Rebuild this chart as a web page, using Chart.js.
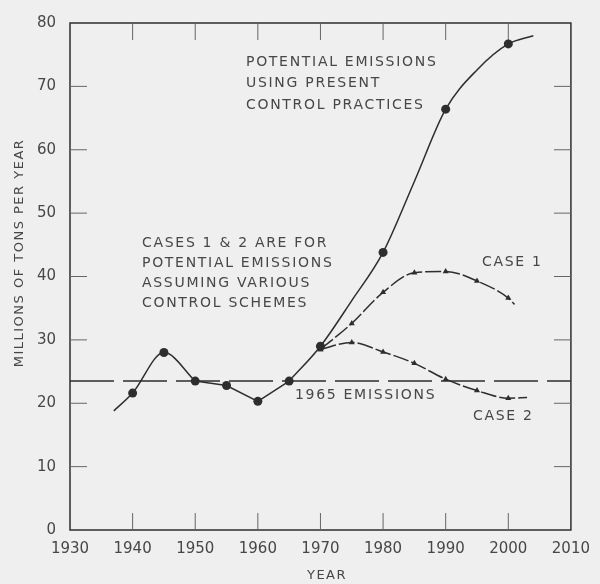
<!DOCTYPE html>
<html>
<head>
<meta charset="utf-8">
<script src="https://cdn.jsdelivr.net/npm/chart.js@4.4.1/dist/chart.umd.min.js"></script>
<style>
  html, body { margin: 0; padding: 0; background: #efefef; }
  canvas { display: block; }
</style>
</head>
<body>
<canvas id="c" width="600" height="584"></canvas>
<script>
// Emissions outlook, millions of tons per year
const mainYears  = [1937, 1940, 1945, 1950, 1955, 1960, 1965, 1970, 1975, 1980, 1985, 1990, 1995, 2000, 2004];
const mainValues = [18.8, 21.6, 28.0, 23.5, 22.8, 20.3, 23.5, 29.0, 36.2, 43.8, 55.0, 66.4, 72.6, 76.7, 78.0];
const mainMarked = [false, true, true, true, true, true, true, true, false, true, false, true, false, true, false];

const case1Years  = [1970, 1975, 1980, 1985, 1990, 1995, 2000, 2001];
const case1Values = [28.5, 32.6, 37.5, 40.6, 40.8, 39.3, 36.6, 35.6];
const case2Years  = [1970, 1975, 1980, 1985, 1990, 1995, 2000, 2003];
const case2Values = [28.5, 29.6, 28.1, 26.3, 23.8, 22.0, 20.8, 20.9];
const caseMarked  = [true, true, true, true, true, true, true, false];

const baseYears  = [1930, 2010];
const baseValues = [23.5, 23.5];

const xTicks = [1930, 1940, 1950, 1960, 1970, 1980, 1990, 2000, 2010];
const yTicks = [0, 10, 20, 30, 40, 50, 60, 70, 80];

const ink = '#2e2e2e';
const textInk = '#474747';

const pts = (xs, ys, from, to) =>
  xs.slice(from, to).map((x, i) => ({ x: x, y: ys[from + i] }));

const lineSet = (data, extra) => Object.assign({
  data: data, borderColor: ink, borderWidth: 1.5, pointRadius: 0,
  fill: false, cubicInterpolationMode: 'monotone'
}, extra);

const nMain = mainYears.length;
const datasets = [
  // present-practice curve: smooth early hump, straight 1950-65, smooth rise
  lineSet(pts(mainYears, mainValues, 0, 4)),
  lineSet(pts(mainYears, mainValues, 3, 7), { cubicInterpolationMode: 'default', tension: 0 }),
  lineSet(pts(mainYears, mainValues, 6, nMain)),
  // control-scheme cases
  lineSet(pts(case1Years, case1Values, 0, case1Years.length), { borderDash: [16, 3] }),
  lineSet(pts(case2Years, case2Values, 0, case2Years.length), { borderDash: [16, 3] }),
  // 1965 level
  lineSet(pts(baseYears, baseValues, 0, 2), { borderDash: [44, 9], cubicInterpolationMode: 'default', tension: 0 }),
  // markers
  {
    data: pts(mainYears, mainValues, 0, nMain).filter((p, i) => mainMarked[i]),
    showLine: false, pointStyle: 'circle', pointRadius: 4.5,
    pointBackgroundColor: ink, pointBorderColor: ink, pointBorderWidth: 0
  },
  {
    data: pts(case1Years, case1Values, 0, case1Years.length).filter((p, i) => caseMarked[i]),
    showLine: false, pointStyle: 'triangle', pointRadius: 3.5,
    pointBackgroundColor: ink, pointBorderColor: ink, pointBorderWidth: 0
  },
  {
    data: pts(case2Years, case2Values, 0, case2Years.length).filter((p, i) => caseMarked[i]),
    showLine: false, pointStyle: 'triangle', pointRadius: 3.5,
    pointBackgroundColor: ink, pointBorderColor: ink, pointBorderWidth: 0
  }
];

const notes = [
  { text: 'POTENTIAL EMISSIONS', x: 246, y: 62 },
  { text: 'USING PRESENT', x: 246, y: 83 },
  { text: 'CONTROL PRACTICES', x: 246, y: 105 },
  { text: 'CASES 1 & 2 ARE FOR', x: 142, y: 243 },
  { text: 'POTENTIAL EMISSIONS', x: 142, y: 263 },
  { text: 'ASSUMING VARIOUS', x: 142, y: 283 },
  { text: 'CONTROL SCHEMES', x: 142, y: 303 },
  { text: 'CASE 1', x: 482, y: 262 },
  { text: '1965 EMISSIONS', x: 295, y: 395 },
  { text: 'CASE 2', x: 473, y: 416 }
];

const frame = {
  id: 'frame',
  beforeDatasetsDraw(chart) {
    const { ctx, chartArea: a, scales } = chart;
    ctx.save();
    ctx.strokeStyle = ink;
    ctx.lineWidth = 1.5;
    ctx.strokeRect(a.left, a.top, a.right - a.left, a.bottom - a.top);
    // inward tick marks on all four sides
    ctx.lineWidth = 1;
    ctx.strokeStyle = '#666';
    const len = 17;
    xTicks.slice(1, -1).forEach(v => {
      const x = scales.x.getPixelForValue(v);
      ctx.beginPath();
      ctx.moveTo(x, a.bottom); ctx.lineTo(x, a.bottom - len);
      ctx.moveTo(x, a.top); ctx.lineTo(x, a.top + len);
      ctx.stroke();
    });
    yTicks.slice(1, -1).forEach(v => {
      const y = scales.y.getPixelForValue(v);
      ctx.beginPath();
      ctx.moveTo(a.left, y); ctx.lineTo(a.left + len, y);
      ctx.moveTo(a.right, y); ctx.lineTo(a.right - len, y);
      ctx.stroke();
    });
    ctx.restore();
  },
  afterDraw(chart) {
    const { ctx } = chart;
    ctx.save();
    ctx.fillStyle = textInk;
    ctx.font = '14px "DejaVu Sans"';
    ctx.letterSpacing = '1.7px';
    ctx.textBaseline = 'middle';
    ctx.textAlign = 'left';
    notes.forEach(n => ctx.fillText(n.text, n.x, n.y));
    // axis titles
    ctx.font = '13px "DejaVu Sans"';
    ctx.letterSpacing = '1.5px';
    ctx.textAlign = 'center';
    ctx.fillText('YEAR', 327, 576);
    ctx.translate(20, 253);
    ctx.rotate(-Math.PI / 2);
    ctx.fillText('MILLIONS OF TONS PER YEAR', 0, 0);
    ctx.restore();
  }
};

new Chart(document.getElementById('c'), {
  type: 'line',
  data: { datasets: datasets },
  plugins: [frame],
  options: {
    responsive: false,
    animation: false,
    devicePixelRatio: 1,
    layout: { padding: { top: 17, right: 18, left: 0, bottom: 0 } },
    plugins: { legend: { display: false }, tooltip: { enabled: false } },
    scales: {
      x: {
        type: 'linear', min: 1930, max: 2010,
        afterBuildTicks: s => { s.ticks = xTicks.map(v => ({ value: v })); },
        afterFit: s => { s.height = 54; },
        ticks: { color: textInk, font: { family: 'DejaVu Sans', size: 15 }, padding: 10, autoSkip: false, maxRotation: 0, callback: v => String(v) },
        grid: { display: false, drawTicks: false },
        border: { display: false }
      },
      y: {
        type: 'linear', min: 0, max: 80,
        afterBuildTicks: s => { s.ticks = yTicks.map(v => ({ value: v })); },
        afterFit: s => { s.width = 70; },
        ticks: { color: textInk, font: { family: 'DejaVu Sans', size: 15 }, padding: 14, callback: v => String(v) },
        grid: { display: false, drawTicks: false },
        border: { display: false }
      }
    }
  }
});
</script>
</body>
</html>
